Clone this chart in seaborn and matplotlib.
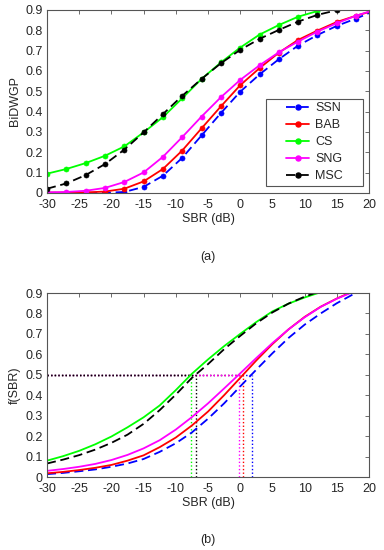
import matplotlib
matplotlib.use("Agg")
import matplotlib.pyplot as plt
from matplotlib.lines import Line2D
from matplotlib.legend_handler import HandlerLine2D
import seaborn as sns
import pandas as pd

# ---------------- data ----------------
series = ["SSN", "BAB", "CS", "SNG", "MSC"]
colors = {"SSN": "#0000FF", "BAB": "#FF0000", "CS": "#00FF00", "SNG": "#FF00FF", "MSC": "#000000"}
styles = {"SSN": (0, (5, 2.6)), "BAB": "-", "CS": "-", "SNG": "-", "MSC": (0, (5, 2.6))}

# (a) measured BiDWGP, SBR step 3 dB from -30 dB
sbr_a = [-30, -27, -24, -21, -18, -15, -12, -9, -6, -3, 0, 3, 6, 9, 12, 15, 18, 21]
ssn_a = [0.001, 0.001, 0.001, 0.001, 0.005, 0.030, 0.085, 0.173, 0.283, 0.393, 0.498, 0.583, 0.658, 0.725, 0.777, 0.822, 0.858, 0.898]
bab_a = [0.002, 0.002, 0.003, 0.007, 0.021, 0.057, 0.118, 0.209, 0.318, 0.426, 0.530, 0.614, 0.690, 0.753, 0.799, 0.841, 0.872, 0.899]
cs_a = [0.095, 0.118, 0.147, 0.183, 0.229, 0.298, 0.373, 0.466, 0.561, 0.642, 0.715, 0.779, 0.826, 0.867, 0.895, 0.920]
sng_a = [0.003, 0.005, 0.011, 0.025, 0.054, 0.101, 0.178, 0.275, 0.376, 0.471, 0.556, 0.628, 0.692, 0.745, 0.794, 0.835, 0.872, 0.902]
msc_a = [0.021, 0.047, 0.088, 0.142, 0.213, 0.298, 0.388, 0.478, 0.561, 0.638, 0.704, 0.758, 0.802, 0.843, 0.876, 0.899]

# (b) fitted f(SBR), read every 2.5 dB
sbr_b = [-30, -27.5, -25, -22.5, -20, -17.5, -15, -12.5, -10, -7.5, -5, -2.5, 0, 2.5, 5, 7.5, 10, 12.5, 15, 17.5, 20]
ssn_b = [0.014, 0.020, 0.028, 0.037, 0.050, 0.066, 0.088, 0.123, 0.165, 0.218, 0.285, 0.360, 0.443, 0.525, 0.605, 0.680, 0.745, 0.800, 0.850, 0.893, 0.930]
bab_b = [0.018, 0.025, 0.034, 0.045, 0.059, 0.080, 0.106, 0.146, 0.193, 0.252, 0.320, 0.400, 0.485, 0.570, 0.650, 0.722, 0.783, 0.833, 0.873, 0.908]
cs_b = [0.080, 0.102, 0.128, 0.160, 0.198, 0.243, 0.292, 0.350, 0.425, 0.505, 0.575, 0.640, 0.700, 0.758, 0.810, 0.848, 0.878, 0.904, 0.925]
sng_b = [0.030, 0.039, 0.050, 0.064, 0.083, 0.108, 0.140, 0.180, 0.232, 0.293, 0.360, 0.433, 0.507, 0.582, 0.655, 0.722, 0.781, 0.832, 0.872, 0.905]
msc_b = [0.066, 0.085, 0.107, 0.134, 0.167, 0.207, 0.260, 0.327, 0.403, 0.485, 0.552, 0.625, 0.690, 0.752, 0.805, 0.848, 0.882, 0.910, 0.930]

# SBR at which f(SBR) = 0.5
level_b = 0.5
cross_b = {"SSN": 1.8, "BAB": 0.5, "CS": -7.7, "SNG": -0.24, "MSC": -6.9}

xticks = [-30, -25, -20, -15, -10, -5, 0, 5, 10, 15, 20]
xtick_labels = ["-30", "-25", "-20", "-15", "-10", "-5", "0", "5", "10", "15", "20"]
yticks = [0, 0.1, 0.2, 0.3, 0.4, 0.5, 0.6, 0.7, 0.8, 0.9]
ytick_labels = ["0", "0.1", "0.2", "0.3", "0.4", "0.5", "0.6", "0.7", "0.8", "0.9"]

vals_a = {"SSN": ssn_a, "BAB": bab_a, "CS": cs_a, "SNG": sng_a, "MSC": msc_a}
vals_b = {"SSN": ssn_b, "BAB": bab_b, "CS": cs_b, "SNG": sng_b, "MSC": msc_b}

# ---------------- style ----------------
sns.set_theme(style="white")
plt.rcParams["font.family"] = ["Liberation Sans", "DejaVu Sans"]
plt.rcParams["font.size"] = 9
edge = "#555555"
txt = "#262626"

fig = plt.figure(figsize=(3.84, 5.5), dpi=100)
ax1 = fig.add_axes([47 / 384, 1 - 193 / 550, 322 / 384, 183 / 550])
ax2 = fig.add_axes([47 / 384, 1 - 477 / 550, 322 / 384, 184 / 550])


def style_axes(ax, ylabel):
    ax.set_xlim(-30, 20)
    ax.set_ylim(0, 0.9)
    ax.set_xticks(xticks)
    ax.set_xticklabels(xtick_labels)
    ax.set_yticks(yticks)
    ax.set_yticklabels(ytick_labels)
    ax.tick_params(direction="in", top=True, right=True, length=2.6, width=0.6,
                   color=edge, labelsize=9, labelcolor=txt)
    ax.tick_params(axis="x", pad=4.5)
    ax.tick_params(axis="y", pad=3)
    for s in ax.spines.values():
        s.set_color(edge)
        s.set_linewidth(0.8)
    ax.set_xlabel("SBR (dB)", fontsize=9, color=txt, labelpad=1.5)
    ax.set_ylabel(ylabel, fontsize=9, color=txt, labelpad=3)


# (a)
for name in series:
    df = pd.DataFrame({"x": sbr_a[:len(vals_a[name])], "y": vals_a[name]})
    sns.lineplot(data=df, x="x", y="y", ax=ax1, color=colors[name], linestyle=styles[name],
                 linewidth=1.3, marker="o", markersize=3.6, markeredgecolor=colors[name],
                 markeredgewidth=0.5, errorbar=None, label=name)
style_axes(ax1, "BiDWGP")

handles = [Line2D([], [], color=colors[n], linestyle=styles[n], linewidth=1.3, marker="o",
                  markersize=3.6, markeredgecolor=colors[n]) for n in series]
leg = ax1.legend(handles, series, loc="lower left", bbox_to_anchor=(0.679, 0.038, 0.302, 0.476),
                 mode="expand", borderaxespad=0, fancybox=False, framealpha=1,
                 edgecolor=edge, fontsize=9, numpoints=1, handlelength=3.15, handletextpad=0.5,
                 borderpad=0.3, labelspacing=0.4,
                 handler_map={Line2D: HandlerLine2D(xpad=1.35, numpoints=1)})
leg.get_frame().set_linewidth(0.8)
for t in leg.get_texts():
    t.set_color(txt)

# (b)
for name in series:
    xc = cross_b[name]
    ax2.plot([-30, xc], [level_b, level_b], color=colors[name], linestyle=(0, (1, 1.6)), linewidth=1.0)
    ax2.plot([xc, xc], [0, level_b], color=colors[name], linestyle=(0, (1, 1.6)), linewidth=1.0)
for name in series:
    df = pd.DataFrame({"x": sbr_b[:len(vals_b[name])], "y": vals_b[name]})
    sns.lineplot(data=df, x="x", y="y", ax=ax2, color=colors[name], linestyle=styles[name],
                 linewidth=1.3, errorbar=None, legend=False)
style_axes(ax2, "f(SBR)")

fig.text(208 / 384, 1 - 257 / 550, "(a)", ha="center", va="center", fontsize=9, color=txt)
fig.text(208 / 384, 1 - 540 / 550, "(b)", ha="center", va="center", fontsize=9, color=txt)

fig.savefig("out.png", dpi=100)
